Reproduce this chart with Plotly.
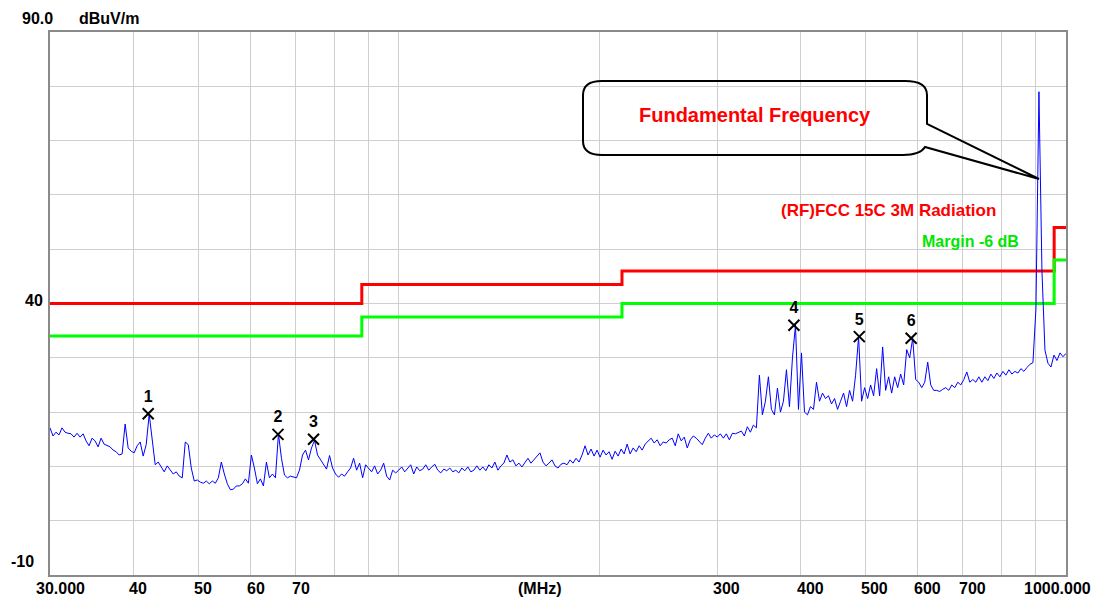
import numpy as np
import plotly.graph_objects as go

# ---------------- data ----------------
F_START, F_STOP = 30.0, 1000.0          # sweep span, MHz (log sweep)

# measured level, dBuV/m, one value per sweep point
levels = [
    17.1, 15.6, 16.3, 15.8, 17.1, 16.3, 16.1, 16.0, 15.4, 16.1,
    15.4, 16.0, 14.7, 13.8, 15.2, 14.7, 13.6, 15.2, 14.1, 13.8,
    13.6, 13.0, 12.7, 12.1, 12.3, 17.8, 13.4, 12.8, 12.5, 13.8,
    14.5, 11.9, 14.0, 19.6, 15.4, 10.3, 10.8, 9.9, 9.0, 10.1,
    9.3, 8.6, 9.0, 8.2, 7.9, 14.5, 14.0, 9.7, 7.3, 7.5,
    7.1, 6.9, 7.3, 6.8, 7.3, 6.9, 7.9, 10.8, 8.6, 6.8,
    5.7, 5.8, 6.4, 6.4, 6.8, 7.7, 6.9, 12.1, 9.7, 6.8,
    7.7, 6.4, 10.8, 7.9, 8.6, 7.9, 16.0, 11.5, 8.4, 7.9,
    8.2, 8.0, 7.9, 9.3, 12.1, 13.0, 11.2, 13.4, 14.8, 12.1,
    11.2, 10.4, 9.5, 12.0, 9.7, 8.6, 8.0, 8.6, 8.2, 9.0,
    9.7, 11.5, 9.3, 10.6, 7.9, 10.3, 9.7, 9.0, 10.1, 8.6,
    9.3, 10.6, 8.2, 7.5, 9.3, 8.8, 9.3, 9.9, 9.0, 9.7,
    10.3, 8.6, 9.9, 9.2, 9.5, 10.3, 9.3, 9.9, 10.4, 9.3,
    8.8, 9.5, 9.2, 9.7, 9.0, 9.3, 8.8, 9.7, 9.2, 9.9,
    9.0, 9.3, 10.1, 9.3, 9.9, 9.2, 10.3, 9.7, 10.8, 9.3,
    10.1, 10.6, 12.1, 10.8, 11.2, 10.1, 10.6, 9.9, 10.8, 11.5,
    10.6, 11.3, 11.9, 12.5, 10.8, 10.1, 10.6, 11.2, 10.1, 9.7,
    10.4, 10.6, 10.3, 11.2, 10.6, 11.5, 10.8, 12.1, 13.8, 12.1,
    13.2, 11.9, 13.0, 11.7, 13.0, 12.1, 12.7, 11.3, 12.8, 11.9,
    13.2, 12.3, 14.1, 12.3, 13.4, 12.7, 13.8, 13.0, 14.1, 14.7,
    15.2, 14.3, 14.9, 13.8, 14.5, 14.3, 14.9, 15.2, 13.8, 16.0,
    14.7, 15.4, 13.4, 14.9, 15.6, 15.2, 14.5, 14.0, 15.2, 16.1,
    15.2, 15.8, 15.4, 16.0, 15.2, 16.0, 14.9, 16.1, 16.0, 16.3,
    16.5, 15.6, 17.3, 16.3, 17.6, 17.1, 26.8, 19.5, 22.0, 26.5,
    20.5, 19.5, 24.4, 20.0, 22.0, 27.8, 21.0, 30.0, 36.0, 20.5,
    30.9, 20.0, 19.5, 21.0, 20.5, 25.5, 22.0, 23.5, 22.5, 23.0,
    21.5, 22.5, 20.5, 22.0, 23.5, 21.0, 24.0, 22.0, 26.8, 33.9,
    22.0, 24.5, 22.5, 25.0, 23.0, 28.0, 23.0, 32.0, 24.0, 26.5,
    23.5, 26.5, 24.5, 27.0, 25.0, 31.5, 30.0, 33.6, 26.0, 25.5,
    24.5, 25.5, 29.2, 25.0, 24.0, 24.0, 23.8, 24.2, 24.5, 24.0,
    25.0, 24.5, 25.5, 25.0, 26.0, 27.4, 25.5, 26.0, 25.5, 26.5,
    25.5, 26.5, 25.8, 27.0, 26.2, 27.2, 26.5, 27.5, 26.8, 27.8,
    27.0, 27.5, 27.2, 28.0, 27.5, 28.2, 28.8, 29.1, 39.0, 79.0,
    46.0, 31.4, 29.0, 28.3, 30.5, 29.5, 30.9, 30.2, 30.8,
]
freqs = np.geomspace(F_START, F_STOP, len(levels))

# FCC 15C 3 m limit and the -6 dB margin line
limit_f = [30, 88, 216, 960, 1000]
limit_level = [40.0, 43.5, 46.0, 54.0, 54.0]
MARGIN_DB = -6.0
margin_level = [v + MARGIN_DB for v in limit_level]

# numbered peak markers
marker_f = [42.1, 65.9, 74.5, 391, 490, 586]
marker_level = [19.7, 15.9, 15.0, 36.0, 33.9, 33.6]
marker_id = ["1", "2", "3", "4", "5", "6"]

# axes
grid_f = [40, 50, 60, 70, 80, 90, 100, 200, 300, 400, 500, 600, 700, 800, 900]
xlabel_f = [30, 40, 50, 60, 70, 300, 400, 500, 600, 700, 1000]
xlabel_text = ["30.000", "40", "50", "60", "70", "300", "400", "500", "600", "700", "1000.000"]
grid_db = [0, 10, 20, 30, 40, 50, 60, 70, 80]
Y_MIN, Y_MAX = -10, 90

# ---------------- styling ----------------
FONT = "Liberation Sans, Arial, sans-serif"
W, H = 1105, 607
ML, MR, MT, MB = 50, 39, 32, 32
PW, PH = W - ML - MR, H - MT - MB


def paper(xp, yp):
    """pixel position inside the page -> paper coordinates"""
    return (xp - ML) / PW, (H - MB - yp) / PH


fig = go.Figure()

fig.add_trace(go.Scatter(x=limit_f, y=limit_level, mode="lines",
                         line=dict(color="#ff0000", width=3, shape="hv"),
                         hoverinfo="skip", showlegend=False))
fig.add_trace(go.Scatter(x=limit_f, y=margin_level, mode="lines",
                         line=dict(color="#00ff00", width=3, shape="hv"),
                         hoverinfo="skip", showlegend=False))
fig.add_trace(go.Scatter(x=freqs, y=levels, mode="lines",
                         line=dict(color="#0000ff", width=1),
                         showlegend=False))
fig.add_trace(go.Scatter(x=marker_f, y=marker_level, mode="markers+text",
                         text=marker_id, textposition="top center",
                         textfont=dict(family=FONT, size=16, color="black", weight="bold"),
                         marker=dict(symbol="x-thin", size=11,
                                     line=dict(color="black", width=2)),
                         showlegend=False))

ann = []
for f, t in zip(xlabel_f, xlabel_text):
    a = dict(xref="x", x=np.log10(f), yref="paper", y=0, yanchor="middle",
             yshift=-13, text=f"<b>{t}</b>", showarrow=False,
             font=dict(family=FONT, size=16, color="black"))
    if t == "30.000":
        a.update(xanchor="left", xshift=-16)
    elif t == "1000.000":
        a.update(xanchor="right", xshift=27)
    else:
        a.update(xanchor="left", xshift=-6)
    ann.append(a)

ann.append(dict(xref="paper", x=paper(540, 0)[0], yref="paper", y=0, yanchor="middle",
                yshift=-13, xanchor="center", text="<b>(MHz)</b>", showarrow=False,
                font=dict(family=FONT, size=16, color="black")))
ann.append(dict(xref="paper", x=0, xanchor="right", xshift=-5, yref="y", y=40,
                yanchor="middle", yshift=3, text="<b>40</b>", showarrow=False,
                font=dict(family=FONT, size=16, color="black")))
ann.append(dict(xref="paper", x=0, xanchor="right", xshift=-14, yref="y", y=Y_MIN,
                yanchor="middle", yshift=14, text="<b>-10</b>", showarrow=False,
                font=dict(family=FONT, size=16, color="black")))
ann.append(dict(xref="paper", x=0, xanchor="right", xshift=5, yref="paper", y=1,
                yanchor="middle", yshift=14, text=f"<b>{Y_MAX:.1f}</b>", showarrow=False,
                font=dict(family=FONT, size=16, color="black")))
ann.append(dict(xref="paper", x=0, xanchor="left", xshift=27, yref="paper", y=1,
                yanchor="middle", yshift=14, text="<b>dBuV/m</b>", showarrow=False,
                font=dict(family=FONT, size=16, color="black")))
ann.append(dict(xref="x", x=np.log10(372), xanchor="left", yref="y", y=57.2,
                yanchor="middle", text="<b>(RF)FCC 15C 3M Radiation</b>", showarrow=False,
                font=dict(family=FONT, size=17, color="#ff0000")))
ann.append(dict(xref="x", x=np.log10(605), xanchor="left", yref="y", y=51.5,
                yanchor="middle", text="<b>Margin -6 dB</b>", showarrow=False,
                font=dict(family=FONT, size=16, color="#00e600")))
fx, fy = paper(755, 115)
ann.append(dict(xref="paper", x=fx, yref="paper", y=fy, xanchor="center", yanchor="middle",
                text="<b>Fundamental Frequency</b>", showarrow=False,
                font=dict(family=FONT, size=20, color="#ff0000")))

# callout bubble
pts = {
    "a": paper(602, 81), "b": paper(905, 81), "c1": paper(927, 81), "c": paper(927, 95),
    "d": paper(927, 124), "tip": paper(1039, 179), "e": paper(925, 147),
    "f1": paper(920, 155), "f": paper(903, 155), "g": paper(602, 155),
    "h1": paper(583, 155), "h": paper(583, 141), "i": paper(583, 95), "j1": paper(583, 81),
}
p = lambda k: f"{pts[k][0]:.5f},{pts[k][1]:.5f}"
path = (f"M {p('a')} L {p('b')} Q {p('c1')} {p('c')} L {p('d')} L {p('tip')} "
        f"L {p('e')} Q {p('f1')} {p('f')} L {p('g')} Q {p('h1')} {p('h')} "
        f"L {p('i')} Q {p('j1')} {p('a')} Z")
shapes = [dict(type="path", xref="paper", yref="paper", path=path,
               line=dict(color="black", width=2), fillcolor="rgba(0,0,0,0)")]

fig.update_layout(
    width=W, height=H,
    margin=dict(l=ML, r=MR, t=MT, b=MB),
    paper_bgcolor="white", plot_bgcolor="white",
    font=dict(family=FONT, size=16, color="black"),
    annotations=ann, shapes=shapes,
    xaxis=dict(type="log", range=[np.log10(F_START), np.log10(F_STOP)],
               tickmode="array", tickvals=grid_f, showticklabels=False, ticks="",
               showgrid=True, gridcolor="#cfcfcf", gridwidth=1,
               showline=True, linecolor="#8a8a8a", linewidth=2, mirror=True,
               zeroline=False),
    yaxis=dict(range=[Y_MIN, Y_MAX], tickmode="array", tickvals=grid_db,
               showticklabels=False, ticks="",
               showgrid=True, gridcolor="#cfcfcf", gridwidth=1,
               showline=True, linecolor="#8a8a8a", linewidth=2, mirror=True,
               zeroline=False),
)

fig.write_html("out.html", config={"displayModeBar": False},
               post_script="document.body.style.margin='0px';document.body.style.overflow='hidden';")
